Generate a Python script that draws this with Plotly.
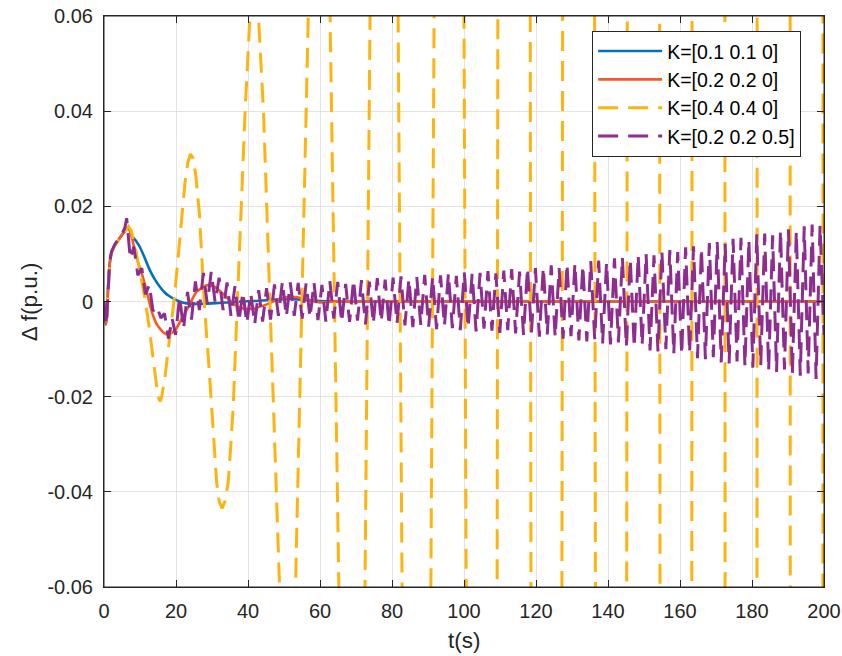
import numpy as np
import plotly.graph_objects as go

# ---------------- data (y in units of 1e-3 p.u.) ----------------
blue_t = [0, 0.25, 0.5, 0.8, 1.2, 1.6, 2.1, 3.0, 3.9, 5.0, 6.0, 6.8, 8.1, 9.0, 10.0, 11.0, 12.0, 12.8, 14.0, 15.6,
          17.0, 18.0, 19.3, 21.0, 23.0, 26.0, 30.0, 34.0, 38.0, 42.0, 46.0, 50.0, 53.0, 56.0, 60.0, 64.0, 200.0]
blue_y = [0, -3.0, -4.8, -3.0, 4.0, 8.0, 10.3, 11.8, 12.8, 14.0, 15.0, 15.4, 13.5, 12.6, 11.4, 9.7, 7.9, 6.5, 4.8, 3.0,
          1.8, 1.2, 0.6, 0.0, -0.4, -0.5, -0.4, -0.2, 0.0, 0.1, 0.3, 0.5, 0.5, 0.3, 0.1, 0.0, 0.0]

orange_t = [0, 0.25, 0.5, 0.8, 1.2, 1.6, 2.1, 3.0, 3.9, 5.0, 6.0, 6.75, 7.8, 9.0, 10.5, 11.8, 13.2, 14.6, 16.5, 17.9,
            19.7, 21.6, 23.4, 25.7, 28.5, 30.4, 33.1, 35.9, 38.7, 41.5, 45.2, 48.9, 52.6, 56.0, 60.0, 64.0, 200.0]
orange_y = [0, -3.0, -4.8, -3.0, 4.0, 8.0, 10.3, 11.8, 12.8, 14.0, 15.0, 15.6, 13.2, 9.3, 5.9, 2.3, -1.9, -4.7, -6.5, -6.9,
            -6.1, -3.6, -1.2, 2.0, 3.4, 3.2, 1.6, -0.5, -1.5, -1.5, -0.6, 0.6, 1.0, 0.5, -0.2, 0.0, 0.0]

yellow_t = [0, 0.25, 0.5, 0.8, 1.2, 1.6, 2.1, 3.0, 3.9, 5.0, 6.0, 6.8, 7.5, 8.5, 9.5, 10.5, 11.4, 12.3, 13.3, 14.2,
            15.0, 15.6, 16.1, 17.0, 17.8, 18.9, 19.5, 20.5, 21.5, 22.5, 23.3, 24.0, 24.7, 25.5, 26.5, 27.3, 28.0, 29.0,
            29.9, 30.6, 31.3, 32.0, 32.8, 33.6, 34.5, 35.2, 35.9, 37.0, 38.1, 39.2, 40.4, 41.2, 42.0, 42.9, 43.6, 44.3,
            45.2, 46.1, 47.3, 48.6,
            51.0, 53.2, 56.7, 59.7, 62.8, 65.3, 68.7, 72.5, 73.9, 77.7, 81.7, 82.8, 86.8, 90.8, 91.7, 95.8, 100.0,
            100.6, 104.8, 109.2, 109.4, 114.0, 118.4, 118.6, 122.9, 127.2, 127.4, 131.8, 136.3, 136.5, 140.8, 145.25,
            145.35, 149.9, 154.35, 154.45, 158.8, 163.25, 163.35, 167.9, 172.47, 172.53, 177.0, 181.37, 181.43, 186.0,
            190.57, 190.63, 195.1, 199.68, 199.72, 200.0]
yellow_y = [0, -3.0, -4.8, -3.0, 4.0, 8.0, 10.3, 11.8, 12.8, 14.0, 15.2, 15.8, 15.0, 12.0, 8.2, 4.2, 0.5, -4.0, -9.7, -15.0,
            -20.0, -21.0, -19.8, -15.5, -10.5, -3.5, 0.5, 8.5, 17.5, 25.0, 29.2, 31.0, 30.2, 26.5, 18.5, 7.0, -2.0, -12.0,
            -22.0, -31.0, -38.0, -42.0, -43.5, -42.0, -38.0, -30.5, -22.0, -1.0, 20.0, 40.0, 58.0, 64.0, 66.0, 60.0, 50.0, 40.0,
            20.0, 0.0, -30.0, -60.0,
            -110, -60, 60, 160, 60, -60, -230, -60, 60, 330, 60, -60, -460, -60, 60, 650, 60,
            -60, -900, -60, 60, 1300, 60, -60, -1800, -60, 60, 2500, 60, -60, -3500, -60,
            60, 5000, 60, -60, -7000, -60, 60, 9500, 60, -60, -13000, -60, 60, 18000,
            60, -60, -25000, -60, 60, 400]

purple_early_t = [0, 0.25, 0.5, 0.8, 1.2, 1.6, 2.1, 3.0, 3.9, 5.0, 5.8, 6.3, 7.3, 8.3, 9.4, 10.5, 11.5, 12.6, 13.6,
                  14.7, 15.8, 16.8, 17.9, 18.9, 19.9]
purple_early_y = [0, -3.5, -5.0, -3.0, 4.5, 8.5, 10.5, 12.0, 13.0, 14.2, 15.5, 17.5, 9.0, 11.5, 5.5, 7.0, 1.5, 3.5, -2.0,
                  -1.0, -3.5, -2.5, -7.8, -3.5, -7.0]
# oscillation extrema, evenly spaced from t = 21 s to t = 200 s
purple_osc_start, purple_osc_end = 21.0, 200.0
purple_osc_y = [1.0, -5.8, 2.0, -3.8, 4.2, -1.8, 6.0, -0.5, 6.2, -0.2,
                5.0, -1.8, 4.0, -3.0, 3.2, -4.2, 2.0, -4.6, 1.8, -4.8,
                2.4, -4.2, 2.8, -3.8, 3.6, -3.0, 4.2, -3.2, 4.0, -3.0,
                3.9, -3.6, 3.8, -3.4, 4.0, -3.9, 3.5, -4.2, 4.3, -3.6,
                4.1, -4.4, 3.7, -4.3, 4.6, -4.0, 4.5, -4.8, 4.2, -4.7,
                4.9, -4.3, 4.6, -5.1, 5.0, -4.6, 5.3, -5.0, 4.8, -5.4,
                5.1, -4.9, 5.6, -5.3, 5.2, -5.8, 5.5, -5.1, 5.9, -5.6,
                5.4, -6.0, 6.1, -5.5, 5.8, -6.3, 6.0, -5.7, 6.4, -6.1,
                5.9, -6.6, 6.5, -6.0, 6.8, -6.7, 6.3, -7.0, 7.1, -6.5,
                7.0, -7.4, 7.2, -6.9, 7.6, -7.5, 7.0, -7.8, 7.9, -7.3,
                8.0, -8.2, 7.6, -8.4, 8.5, -7.9, 8.6, -8.8, 8.2, -9.0,
                9.1, -8.6, 9.3, -9.5, 8.9, -9.7, 9.8, -9.2, 10.0, -10.3,
                9.7, -10.5, 10.6, -10.0, 10.8, -11.0, 10.4, -11.2, 11.4, -10.8,
                11.6, -11.9, 11.2, -12.1, 12.3, -11.7, 12.5, -12.8, 12.1, -13.0,
                13.2, -12.6, 13.4, -13.6, 13.0, -13.9, 14.1, -13.4, 14.3, -14.5,
                13.9, -14.8, 15.0, -14.3, 15.2, -15.4, 14.8, -15.6, 15.8, -15.1,
                16.2, -16.3, 16.0, -7.0]

names = ["K=[0.1 0.1 0]", "K=[0.2 0.2 0]", "K=[0.4 0.4 0]", "K=[0.2 0.2 0.5]"]
x_ticks = [0, 20, 40, 60, 80, 100, 120, 140, 160, 180, 200]
y_ticks = [-0.06, -0.04, -0.02, 0, 0.02, 0.04, 0.06]
y_ticktext = ["-0.06", "-0.04", "-0.02", "0", "0.02", "0.04", "0.06"]

# ---------------- build ----------------
scale = 1e-3
purple_t = list(purple_early_t) + list(np.linspace(purple_osc_start, purple_osc_end, len(purple_osc_y)))
purple_y = list(purple_early_y) + list(purple_osc_y)

fig = go.Figure()
fig.add_trace(go.Scatter(x=blue_t, y=np.array(blue_y) * scale, mode="lines", name=names[0],
                         line=dict(color="#0072BD", width=2.6, shape="spline", smoothing=0.6)))
fig.add_trace(go.Scatter(x=orange_t, y=np.array(orange_y) * scale, mode="lines", name=names[1],
                         line=dict(color="#F85A1E", width=2.6, shape="spline", smoothing=0.6)))
fig.add_trace(go.Scatter(x=yellow_t, y=np.array(yellow_y) * scale, mode="lines", name=names[2],
                         line=dict(color="#FFB30F", width=3, dash="20px,10px")))
fig.add_trace(go.Scatter(x=purple_t, y=np.array(purple_y) * scale, mode="lines", name=names[3],
                         line=dict(color="#8E2C90", width=3, dash="20px,10px")))

font_family = "Liberation Sans, Arial, Helvetica, sans-serif"
axis_common = dict(showgrid=True, gridcolor="#e3e3e3", gridwidth=1, zeroline=False,
                   showline=True, linecolor="#262626", linewidth=1, mirror="ticks",
                   ticks="inside", ticklen=7, tickcolor="#262626", tickwidth=1, automargin=False,
                   ticklabeloverflow="allow",
                   tickfont=dict(family=font_family, size=20, color="#262626"))

fig.update_layout(
    width=842, height=656,
    margin=dict(l=104, r=18, t=16, b=69, autoexpand=False),
    paper_bgcolor="white", plot_bgcolor="white",
    showlegend=True,
    legend=dict(x=0.678, y=0.974, xanchor="left", yanchor="top",
                bgcolor="white", bordercolor="#262626", borderwidth=1,
                font=dict(family=font_family, size=19.5, color="#000000"),
                itemwidth=64, tracegroupgap=0),
    xaxis=dict(range=[0, 200], tickvals=x_ticks, ticktext=[str(v) for v in x_ticks],
               ticklabelstandoff=6, **axis_common),
    yaxis=dict(range=[-0.06, 0.06], tickvals=y_ticks, ticktext=y_ticktext,
               ticklabelstandoff=6, **axis_common),
    shapes=[dict(type="rect", xref="paper", yref="paper", x0=0, x1=1, y0=0, y1=1,
                 line=dict(color="#262626", width=1), fillcolor="rgba(0,0,0,0)", layer="above")],
    annotations=[
        dict(text="t(s)", x=0.5, y=-0.093, xref="paper", yref="paper", showarrow=False,
             xanchor="center", yanchor="middle", font=dict(family=font_family, size=22.5, color="#262626")),
        dict(text="Δ f(p.u.)", x=-0.103, y=0.5, xref="paper", yref="paper", showarrow=False,
             textangle=-90, xanchor="center", yanchor="middle",
             font=dict(family=font_family, size=22.5, color="#262626")),
    ],
)

# remove the default 8 px page margin so the figure sits at the window's top-left corner
fig.write_html("out.html", config={"displayModeBar": False},
               post_script="document.body.style.margin='0px';")
